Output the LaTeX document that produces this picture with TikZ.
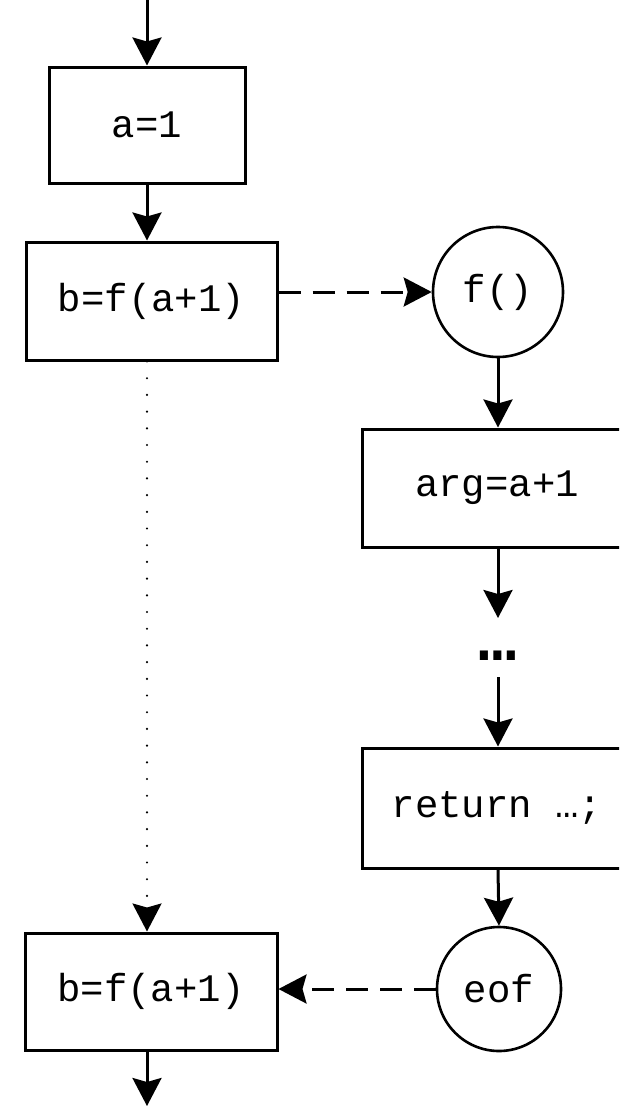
\documentclass[tikz,border=0pt]{standalone}
\usepackage{fontspec}
\newfontfamily\codefont{Liberation Mono}
\usetikzlibrary{arrows.meta}
\begin{document}
\begin{tikzpicture}[x=1pt,y=-1pt,
  every node/.style={font=\codefont\fontsize{39}{45}\selectfont},
  stmt/.style={draw,line width=3pt,rectangle,inner sep=0pt},
  term/.style={draw,line width=2.6pt,circle,inner sep=0pt},
  flow/.style={line width=3pt,-{Stealth[length=28pt,width=29pt,inset=4pt]}},
  call/.style={flow,dash pattern=on 22pt off 12pt},
  skip/.style={flow,line width=2.4pt,dash pattern=on 0pt off 16.7pt,line cap=round}]
\clip (0,0) rectangle (619,1106);
\fill[white] (0,0) rectangle (619,1106);
% left column: caller
\node[stmt,minimum width=196pt,minimum height=116pt] (a) at (147,125) {a=1};
\node[stmt,minimum width=251pt,minimum height=118pt] (b) at (151.5,301) {b=f(a+1)};
\node[stmt,minimum width=252pt,minimum height=117pt] (b2) at (151,991.5) {b=f(a+1)};
% right column: callee
\node[term,minimum size=130pt] (fc) at (498,292) {f()};
\node[stmt,minimum width=270pt,minimum height=118pt] (arg) at (497,488) {arg=a+1};
\node[font=\codefont\bfseries\fontsize{64}{70}\selectfont,inner sep=0pt,anchor=base] (dots) at (498,660) {…};
\node[stmt,minimum width=270pt,minimum height=120pt] (ret) at (497,808) {return …;};
\node[term,minimum size=124pt] (eof) at (499,989) {eof};
% free ends
\coordinate (in) at (147,0);
\coordinate (out) at (147,1106);
\coordinate (dtop) at (498,618);
\coordinate (dbot) at (498,677);
% connectors
\draw[flow] (in) -- (a.north);
\draw[flow] (a.south) -- (a.south |- b.north);
\draw[call] (b.east |- fc.west) -- (fc.west);
\draw[skip] (a.south |- b.south) -- (a.south |- b2.north);
\draw[flow] (fc.south) -- (fc.south |- arg.north);
\draw[flow] (fc.south |- arg.south) -- (dtop);
\draw[flow] (dbot) -- (dbot |- ret.north);
\draw[flow] (fc.south |- ret.south) -- (eof.north);
\draw[call] (eof.west) -- (b2.east |- eof.west);
\draw[flow] (a.south |- b2.south) -- (out);
\end{tikzpicture}
\end{document}
